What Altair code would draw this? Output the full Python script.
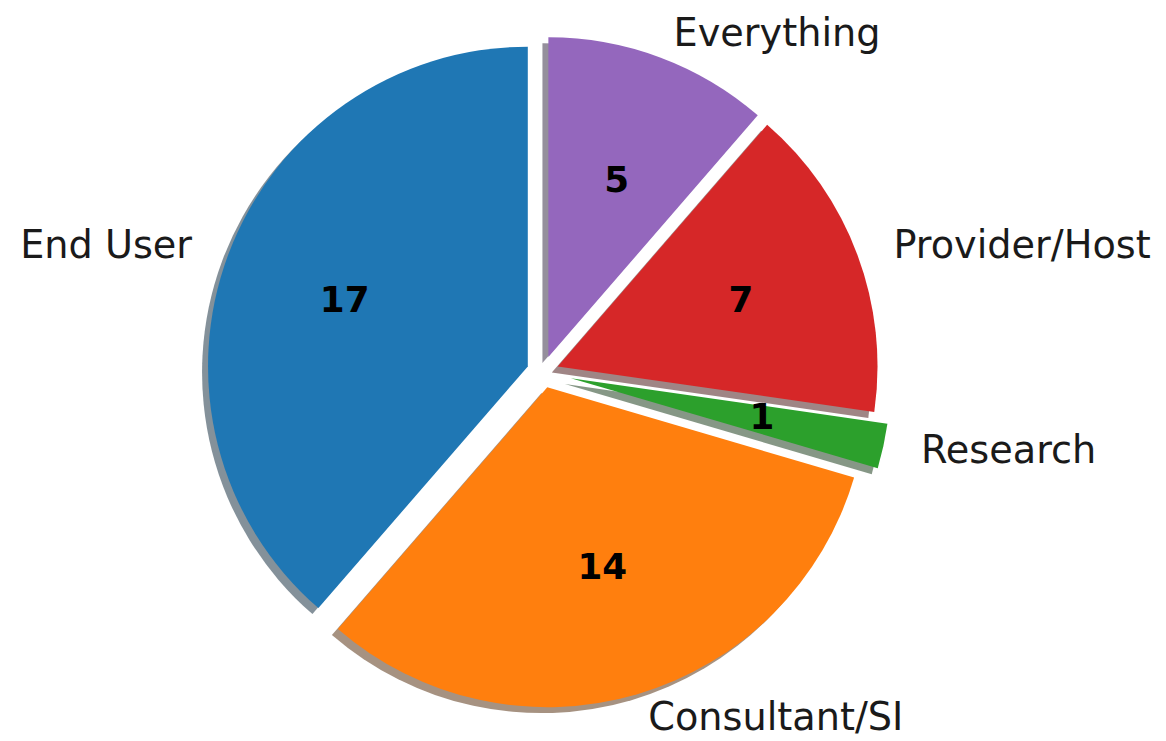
import altair as alt
import pandas as pd

# data (matplotlib order, counter-clockwise from 12 o'clock)
labels = ["End User", "Consultant/SI", "Research", "Provider/Host", "Everything"]
values = [17, 14, 1, 7, 5]

# styling
colors = ["#1f77b4", "#ff7f0e", "#2ca02c", "#d62728", "#9467bd"]
shadow_colors = ["#092436", "#4d2604", "#0d300d", "#400c0c", "#2c1f39"]
explode = [0.05, 0.05, 0.09, 0.05, 0.05]

CX, CY = 538.5, 364.0   # pie centre (px in plot area)
R = 322                 # arc radius
RX, RY = 328, 316       # label placement radii
SH = 6.0                # shadow offset

df = pd.DataFrame({
    "label": labels,
    "value": values,
    "idx": list(range(len(labels))),
    "explode": explode,
})

base = alt.Chart(df).transform_window(
    cum="sum(value)", sort=[alt.SortField("idx")], frame=[None, 0]
).transform_joinaggregate(
    total="sum(value)"
).transform_calculate(
    t1="2*PI*(1 - datum.cum/datum.total)",
    t2="2*PI*(1 - (datum.cum - datum.value)/datum.total)",
).transform_calculate(
    mid="(datum.t1 + datum.t2)/2",
).transform_calculate(
    sx=f"{CX} + datum.explode*{R}*sin(datum.mid)",
    sy=f"{CY} - datum.explode*{R}*cos(datum.mid)",
).transform_calculate(
    shx=f"datum.sx - {SH}",
    shy=f"datum.sy + {SH}",
    lx=f"datum.sx + 1.1*{RX}*sin(datum.mid)",
    ly=f"datum.sy - 1.1*{RY}*cos(datum.mid)",
    nx=f"datum.sx + 0.6*{RX}*sin(datum.mid)",
    ny=f"datum.sy - 0.6*{RY}*cos(datum.mid)",
    side="sin(datum.mid) > 0 ? 1 : 0",
)

shadow = base.mark_arc(radius=R, opacity=0.5).encode(
    x=alt.X("shx:Q", scale=None, axis=None),
    y=alt.Y("shy:Q", scale=None, axis=None),
    theta=alt.Theta("t1:Q", scale=None, stack=None),
    theta2=alt.Theta2("t2:Q"),
    color=alt.Color("label:N", scale=alt.Scale(domain=labels, range=shadow_colors), legend=None),
)

wedges = base.mark_arc(radius=R).encode(
    x=alt.X("sx:Q", scale=None, axis=None),
    y=alt.Y("sy:Q", scale=None, axis=None),
    theta=alt.Theta("t1:Q", scale=None, stack=None),
    theta2=alt.Theta2("t2:Q"),
    fill=alt.Fill("label:N", scale=alt.Scale(domain=labels, range=colors), legend=None),
)

font = "DejaVu Sans"

labels_right = base.transform_filter("datum.side == 1").mark_text(
    align="left", baseline="middle", font=font, fontSize=38.5, color="#1a1a1a"
).encode(
    x=alt.X("lx:Q", scale=None, axis=None),
    y=alt.Y("ly:Q", scale=None, axis=None),
    text="label:N",
)

labels_left = base.transform_filter("datum.side == 0").mark_text(
    align="right", baseline="middle", font=font, fontSize=38.5, color="#1a1a1a"
).encode(
    x=alt.X("lx:Q", scale=None, axis=None),
    y=alt.Y("ly:Q", scale=None, axis=None),
    text="label:N",
)

numbers = base.mark_text(
    align="center", baseline="middle", font=font, fontSize=36, fontWeight="bold", color="black"
).encode(
    x=alt.X("nx:Q", scale=None, axis=None),
    y=alt.Y("ny:Q", scale=None, axis=None),
    text="value:Q",
)

chart = alt.layer(shadow, wedges, labels_right, labels_left, numbers).properties(
    width=1158, height=733, padding=0, background="white",
    autosize=alt.AutoSizeParams(type="none")
).configure_view(stroke=None)

chart.save("out.html", embed_options={"renderer": "svg", "actions": False})
